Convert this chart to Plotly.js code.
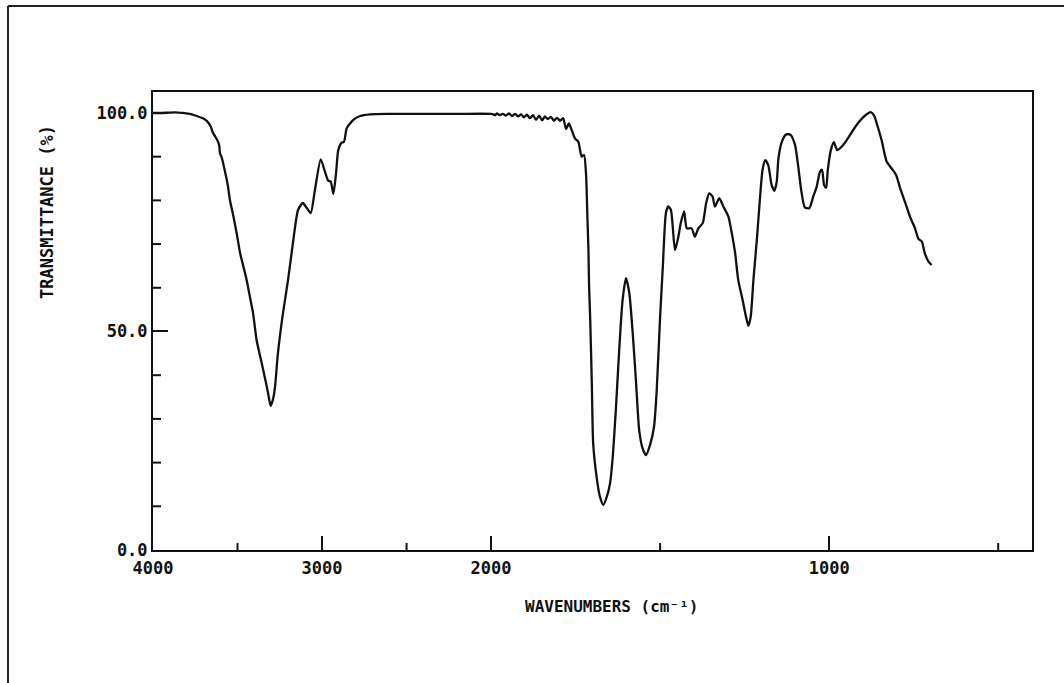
<!DOCTYPE html>
<html>
<head>
<meta charset="utf-8">
<script src="https://cdn.plot.ly/plotly-3.0.1.min.js"></script>
<style>html,body{margin:0;padding:0;background:#fff;}#chart{width:1064px;height:683px;}</style>
</head>
<body>
<div id="chart"></div>
<script>
// Wavenumbers (cm-1) and transmittance (%)
const wavenumbers = [
4000,3950,3900,3850,3823,3781,3741,3700,3682,3660,3645,3630,3615,3608,3604,3595,3585,3574,3565,3556,
3545,3525,3505,3485,3466,3446,3427,3408,3387,3357,3327,3315,3304,3290,3278,3261,3231,3201,3172,3142,
3114,3091,3067,3042,3008,2983,2963,2949,2933,2917,2904,2884,2870,2854,2815,2775,2716,2600,2400,2200,
2000,1994,1988,1983,1974,1965,1956,1947,1938,1929,1920,1911,1903,1894,1885,1876,1867,1858,1849,1841,
1832,1823,1814,1805,1796,1787,1778,1770,1762,1752,1742,1732,1725,1719,1715,1712,1710,1707,1702,1698,
1688,1678,1668,1656,1648,1640,1631,1621,1611,1601,1591,1581,1571,1562,1552,1542,1530,1518,1510,1500,
1492,1483,1476,1468,1456,1446,1439,1429,1421,1407,1397,1387,1374,1364,1355,1345,1338,1325,1313,1298,
1288,1278,1269,1256,1246,1239,1232,1224,1214,1205,1197,1189,1180,1170,1162,1155,1150,1140,1127,1114,
1101,1092,1082,1072,1059,1047,1037,1027,1021,1015,1009,1004,995,986,976,963,948,929,909,889,
877,867,855,845,830,815,802,790,776,761,746,736,726,717,707,697
];
const transmittance = [
100.0,100.0,100.1,100.1,100.0,99.8,99.3,98.7,98.2,97.0,95.4,94.5,93.4,92.5,90.8,90.0,88.5,86.6,85.0,83.1,
80.1,76.5,72.5,68.0,65.0,61.8,58.0,54.2,48.0,42.8,37.4,35.0,33.0,34.5,37.4,45.0,54.2,61.8,70.3,77.8,
79.4,78.3,77.1,82.4,89.4,86.6,84.5,84.3,81.5,86.3,91.5,93.2,93.4,96.5,98.4,99.3,99.7,99.8,99.8,99.8,
99.8,99.7,99.5,99.9,99.5,99.8,99.4,99.9,99.3,99.8,99.2,99.7,99.0,99.6,98.8,99.5,98.4,99.4,98.3,99.2,
98.6,99.1,98.2,98.9,98.2,98.8,96.3,97.6,96.2,94.2,93.4,90.0,90.4,85.8,76.0,68.6,60.0,53.4,38.1,24.4,
16.8,12.2,10.3,12.6,15.3,21.4,32.0,45.8,57.2,62.2,58.7,49.6,38.1,27.5,23.3,21.7,24.0,28.2,36.6,53.4,
64.8,77.0,78.6,77.8,68.6,71.7,74.8,77.5,73.6,73.6,71.7,73.6,74.8,79.3,81.6,80.9,78.6,80.5,78.6,76.3,
72.5,67.9,61.8,57.2,53.4,51.3,53.4,61.8,70.9,80.1,87.0,89.2,88.0,83.5,82.2,84.3,89.6,93.4,95.1,95.0,
92.7,88.1,82.0,78.4,78.2,80.9,83.1,86.6,87.0,83.5,82.9,87.0,91.5,93.3,91.5,92.3,93.8,96.1,98.2,99.7,
100.2,99.4,96.5,93.8,88.9,87.3,85.8,82.8,79.7,76.3,73.6,71.2,70.6,67.9,66.1,65.2
];
const xMajorTicks = [4000, 3000, 2000, 1000];
const xMinorTicks = [3500, 2500, 1500, 500];
const yMajorTicks = [0, 50, 100];
const yMajorLabels = ['0.0', '50.0', '100.0'];
const yMinorTicks = [10, 20, 30, 40, 60, 70, 80, 90];

// Instrument axis: 4000-2000 cm-1 at half scale, 2000-400 at full scale
function axisPos(w) { return w >= 2000 ? (4000 - w) / 2 : 1000 + (2000 - w); }

const MONO = 'DejaVu Sans Mono, Liberation Mono, monospace';
const tickFont = {family: MONO, size: 17, color: '#111', weight: 'bold'};

const trace = {
  x: wavenumbers.map(axisPos),
  y: transmittance,
  mode: 'lines',
  line: {color: '#111', width: 2.3, shape: 'spline', smoothing: 0.6},
  hoverinfo: 'skip'
};

const PW = 879, PH = 458;
const shapes = [];
// minor ticks drawn inward from the axis lines
xMinorTicks.forEach(w => shapes.push({type: 'line', xref: 'x', yref: 'paper', x0: axisPos(w), x1: axisPos(w), y0: 0, y1: 7 / PH, line: {color: '#111', width: 2}}));
yMinorTicks.forEach(v => shapes.push({type: 'line', xref: 'paper', yref: 'y', x0: 0, x1: 8 / PW, y0: v, y1: v, line: {color: '#111', width: 2}}));
// outer page frame
shapes.push({type: 'line', xref: 'paper', yref: 'paper', x0: (8 - 153) / PW, x1: (8 - 153) / PW, y0: (550 - 690) / PH, y1: (550 - 6) / PH, line: {color: '#222', width: 2}});
shapes.push({type: 'line', xref: 'paper', yref: 'paper', x0: (8 - 153) / PW, x1: (1070 - 153) / PW, y0: (550 - 6) / PH, y1: (550 - 6) / PH, line: {color: '#222', width: 2}});

const layout = {
  width: 1064, height: 683,
  margin: {l: 153, r: 32, t: 92, b: 133},
  paper_bgcolor: '#fff', plot_bgcolor: '#fff',
  showlegend: false,
  xaxis: {
    range: [0, axisPos(400)],
    tickmode: 'array',
    tickvals: xMajorTicks.map(axisPos),
    ticktext: xMajorTicks.map(String),
    ticks: 'inside', ticklen: 14, tickwidth: 2, tickcolor: '#111',
    ticklabelstandoff: 2,
    showline: true, mirror: true, linewidth: 2, linecolor: '#111',
    showgrid: false, zeroline: false,
    tickfont: tickFont
  },
  yaxis: {
    range: [0, 104.8],
    tickmode: 'array',
    tickvals: yMajorTicks,
    ticktext: yMajorLabels,
    ticks: 'inside', ticklen: 15, tickwidth: 2, tickcolor: '#111',
    showline: true, mirror: true, linewidth: 2, linecolor: '#111',
    showgrid: false, zeroline: false,
    tickfont: tickFont
  },
  annotations: [
    {text: 'WAVENUMBERS (cm\u207B\u00B9)', xref: 'paper', yref: 'paper', x: (611 - 153) / PW, y: (550 - 606) / PH,
     showarrow: false, xanchor: 'center', yanchor: 'middle', font: {family: MONO, size: 16, color: '#111', weight: 'bold'}},
    {text: 'TRANSMITTANCE (%)', xref: 'paper', yref: 'paper', x: (47 - 153) / PW, y: (550 - 212) / PH,
     textangle: -90, showarrow: false, xanchor: 'center', yanchor: 'middle', font: {family: MONO, size: 17, color: '#111', weight: 'bold'}}
  ],
  shapes: shapes
};

Plotly.newPlot('chart', [trace], layout, {displayModeBar: false, staticPlot: true});
</script>
</body>
</html>
